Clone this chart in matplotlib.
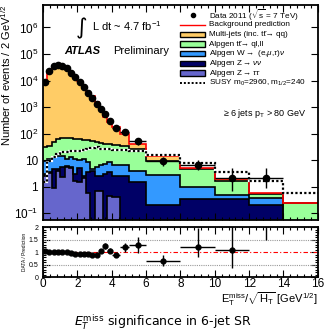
import numpy as np
import matplotlib
matplotlib.use("Agg")
import matplotlib.pyplot as plt
from matplotlib.lines import Line2D
from matplotlib.patches import Rectangle
from matplotlib.ticker import FixedLocator, MultipleLocator, NullFormatter

plt.rcParams['font.family'] = ['Liberation Sans', 'DejaVu Sans']
plt.rcParams['mathtext.fontset'] = 'custom'
plt.rcParams['mathtext.rm'] = 'Liberation Sans'
plt.rcParams['mathtext.it'] = 'Liberation Sans:italic'
plt.rcParams['mathtext.bf'] = 'Liberation Sans:bold'

# binning: 0.25 wide up to 4, then wider bins
edges = [0, 0.25, 0.5, 0.75, 1.0, 1.25, 1.5, 1.75, 2.0, 2.25, 2.5, 2.75, 3.0,
         3.25, 3.5, 3.75, 4.0, 4.5, 5.0, 6.0, 8.0, 10.0, 12.0, 14.0, 16.0]

# backgrounds, events / 2 GeV^1/2
ztautau = [2.5, 3.2, 0.9, 4.0, 2.3, 5.5, 4.9, 1.7, 1.5, 2.1, 0.6, 0, 0.7, 0.7, 0, 0.45,
           0.4, 0, 0, 0, 0, 0, 0, 0]
znunu = [0.5, 0.3, 3.8, 0.5, 3.2, 0.5, 0.6, 1.3, 3.5, 0.5, 2.9, 4.0, 1.8, 1.8, 3.0, 3.05,
         2.2, 2.6, 1.5, 0.21, 0.33, 0.33, 0.21, 0]
wjets = [6.0, 7.5, 8.3, 9.5, 8.5, 5.0, 7.5, 8.0, 5.0, 8.4, 5.0, 0.8, 3.0, 4.0, 4.0, 5.0,
         3.9, 3.7, 2.5, 2.6, 0.64, 0.14, 0.15, 0]
ttbar = [21, 22, 37, 48, 54, 59, 55, 53, 50, 46, 46.5, 47.2, 42.5, 38.5, 35, 31.5,
         29.5, 27.7, 23, 6.7, 3.6, 1.1, 0.19, 0.25]
multijet = [8446, 22967, 34600, 36938, 34932, 30230, 20132, 13766, 9180, 5853, 3635,
            2508, 1462, 746, 390, 238, 146, 63, 13, 4.7, 0.7, 0.36, 0.05, 0]
susy = [1.5, 9, 13, 17, 20, 21, 22, 22, 23, 25, 26, 28, 31, 27, 26, 27,
        25, 24, 22, 15, 7.6, 3.6, 1.6, 0.6]

# data 2011
data = [8900, 23000, 35000, 37000, 35000, 30000, 19600, 13000, 8500, 5500, 3430, 2230,
        1360, 815, 540, 292, 160, 115, 51, 9.2, 6.3, 2.1, 2.1]
data_lo = [270, 540, 660, 680, 660, 610, 500, 400, 330, 120, 100, 80, 60, 40, 56, 28,
           13, 19, 13, 3.0, 2.1, 1.4, 1.2]
data_hi = [270, 540, 660, 680, 660, 610, 500, 400, 330, 120, 100, 80, 60, 40, 56, 28,
           13, 19, 13, 3.5, 4.0, 2.8, 2.8]

colors = ['#6666cc', '#000066', '#3399ff', '#99ff99', '#ffcc66']
labels = ['Alpgen Z$\\rightarrow\\tau\\tau$', 'Alpgen Z$\\rightarrow\\nu\\nu$',
          'Alpgen W$\\rightarrow$ (e,$\\mu$,$\\tau$)$\\nu$',
          'Alpgen tt\u0304\u2192 ql,ll',
          'Multi-jets (inc. tt\u0304\u2192 qq)']

edges = np.array(edges)
centers = 0.5 * (edges[1:] + edges[:-1])
halfw = 0.5 * np.diff(edges)
nd = len(data)
floor = 1e-3

W, H = 326, 335
fig = plt.figure(figsize=(W / 100, H / 100), dpi=100)
ax = fig.add_axes([0.132, 0.343, 0.843, 0.642])
ax2 = fig.add_axes([0.132, 0.173, 0.843, 0.149])

stack = np.cumsum(np.vstack([ztautau, znunu, wjets, ttbar, multijet]), axis=0)
total = stack[-1]
prev = np.full(len(total), floor)
for i, col in enumerate(colors):
    top = np.maximum(stack[i], floor)
    ax.stairs(top, edges, baseline=prev, fill=True, color=col, lw=0)
    prev = top
for i in range(len(colors) - 1):
    ax.stairs(np.maximum(stack[i], floor), edges, baseline=None, color='k', lw=1.2)
ax.stairs(np.maximum(total, floor), edges, baseline=None, color='red', lw=1.2)

ax.stairs(susy, edges, baseline=None, color='white', lw=1.6)
ax.stairs(susy, edges, baseline=None, color='black', lw=1.6, linestyle=(0, (1, 1)))

ax.errorbar(centers[:nd], data, xerr=halfw[:nd], yerr=[data_lo, data_hi], fmt='o',
            color='k', ms=4.5, lw=1, capsize=0, zorder=5)

ax.set_yscale('log')
ax.set_xlim(0, 16)
ax.set_ylim(0.055, 7e6)
ax.yaxis.set_major_locator(FixedLocator([0.1, 1, 10, 100, 1e3, 1e4, 1e5, 1e6]))
ax.set_yticklabels(['$10^{-1}$', '1', '10', '$10^{2}$', '$10^{3}$', '$10^{4}$',
                    '$10^{5}$', '$10^{6}$'], fontsize=8.5)
ax.set_ylabel('Number of events / 2 GeV$^{1/2}$', fontsize=8, loc='top', labelpad=1)
ax.xaxis.set_major_formatter(NullFormatter())

# ratio panel
tot_d = total[:nd]
ratio = np.array(data) / tot_d
r_lo = np.array(data_lo) / tot_d
r_hi = np.array(data_hi) / tot_d
for yv in (0.5, 1.5, 2.0):
    ax2.axhline(yv, color='#999999', ls=(0, (1, 1)), lw=0.8)
ax2.axhline(1, color='red', ls=(0, (4, 2, 1, 2)), lw=0.8)
ax2.errorbar(centers[:nd], ratio, xerr=halfw[:nd], yerr=[r_lo, r_hi], fmt='o',
             color='k', ms=3.5, lw=1, capsize=0, zorder=5)
ax2.set_xlim(0, 16)
ax2.set_ylim(0, 2)
ax2.yaxis.set_major_locator(FixedLocator([0, 0.5, 1, 1.5, 2]))
ax2.set_yticklabels(['0', '0.5', '1', '1.5', '2'], fontsize=5)
ax2.set_ylabel('DATA / Prediction', fontsize=3.5, labelpad=1)
ax2.tick_params(axis='x', labelsize=8.5, pad=1)
ax2.set_xlabel('E$_{\\mathrm{T}}^{\\mathrm{miss}}$/$\\sqrt{\\mathrm{H_T}}$ [GeV$^{1/2}$]',
               fontsize=8, loc='right', labelpad=-0.5)

for a in (ax, ax2):
    a.xaxis.set_major_locator(MultipleLocator(2))
    a.xaxis.set_minor_locator(MultipleLocator(0.4))
    a.tick_params(which='both', direction='in', top=True, right=True, width=0.8)
    a.tick_params(which='major', length=5)
    a.tick_params(which='minor', length=2.5)
    for s in a.spines.values():
        s.set_linewidth(1.3)
ax2.yaxis.set_minor_locator(MultipleLocator(0.1))

# labels inside the main frame
ax.text(0.12, 0.94, '\u222b', transform=ax.transAxes, fontsize=16, va='top',
        family=['DejaVu Sans'])
ax.text(0.178, 0.879, 'L dt ~ 4.7 fb$^{-1}$', transform=ax.transAxes, fontsize=8,
        va='baseline')
ax.text(0.078, 0.772, 'ATLAS', transform=ax.transAxes, fontsize=8,
        fontweight='bold', fontstyle='italic', va='baseline')
ax.text(0.255, 0.772, 'Preliminary', transform=ax.transAxes, fontsize=8, va='baseline')
ax.text(0.96, 0.485, '\u2265 6 jets p$_{\\mathrm{T}}$ > 80 GeV', transform=ax.transAxes,
        fontsize=6.5, ha='right')

# legend, laid out row by row in pixel units
names = ['Data 2011 ($\\sqrt{\\mathrm{s}}$ = 7 TeV)', 'Background prediction'] + labels[::-1] + \
        ['SUSY m$_{0}$=2960, m$_{1/2}$=240']
row_y = [15 + 9.67 * i for i in range(len(names))]
hx0, hx1, tx = 180, 205, 209


def fx(px):
    return px / W


def fy(py):
    return 1 - py / H


for i, (name, py) in enumerate(zip(names, row_y)):
    if i == 0:
        fig.add_artist(Line2D([fx((hx0 + hx1) / 2)], [fy(py)], marker='o', color='k',
                              ms=3, ls='none'))
    elif i == 1:
        fig.add_artist(Line2D([fx(hx0), fx(hx1)], [fy(py), fy(py)], color='red', lw=1))
    elif i == len(names) - 1:
        fig.add_artist(Line2D([fx(hx0), fx(hx1)], [fy(py), fy(py)], color='k', lw=1.4,
                              ls=(0, (1, 1))))
    else:
        fig.add_artist(Rectangle((fx(hx0), fy(py + 2.8)), fx(hx1 - hx0), 5.6 / H,
                                 facecolor=colors[::-1][i - 2], edgecolor='k', lw=1))
    fig.text(fx(tx), fy(py), name, fontsize=5.9, va='center', ha='left')

fig.text(0.5, 1 - 322 / H, r'$E_T^{\rm miss}$ significance in 6-jet SR', ha='center',
         va='center', fontsize=9, family='DejaVu Sans', math_fontfamily='dejavusans')

fig.savefig('out.png', dpi=100)
